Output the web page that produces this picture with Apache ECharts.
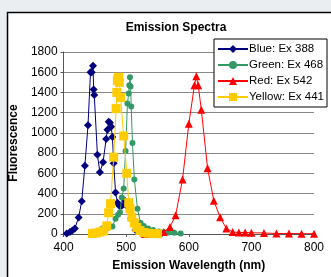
<!DOCTYPE html>
<html>
<head>
<meta charset="utf-8">
<script src="https://cdn.jsdelivr.net/npm/echarts@6/dist/echarts.min.js"></script>
<style>
  html, body { margin: 0; padding: 0; background: #eaeef1; }
  #main { width: 331px; height: 277px; }
</style>
</head>
<body>
<div id="main"></div>
<script>
// 数据
var xTicks = [400, 500, 600, 700, 800];
var yTicks = [0, 200, 400, 600, 800, 1000, 1200, 1400, 1600, 1800];

var blueX = [405, 410, 414, 418, 424, 429, 434, 439, 443, 445, 447, 448, 449, 454, 458, 463, 468, 470, 472, 474, 476, 478, 480, 483, 486, 489, 493, 498, 503, 508, 515, 525, 540, 556];
var blueY = [5, 20, 35, 55, 164, 325, 675, 1075, 1600, 1600, 1665, 1430, 1375, 785, 610, 710, 940, 1030, 1110, 1100, 1060, 960, 700, 410, 310, 280, 280, 330, 265, 150, 40, 10, 5, 3];

var greenX = [447, 455, 462, 470, 478, 483, 487, 490, 493, 496, 499, 502, 504, 505, 506, 507, 508, 510, 513, 518, 523, 528, 535, 543, 552, 560, 568, 577, 587];
var greenY = [10, 30, 55, 60, 75, 150, 190, 215, 360, 450, 820, 1290, 1390, 1470, 1550, 1460, 1260, 900, 540, 250, 110, 80, 55, 40, 25, 18, 15, 12, 5];

var redX = [530, 560, 570, 579, 590, 600, 609, 612, 615, 620, 630, 640, 650, 660, 670, 680, 690, 700, 720, 740, 760, 780, 800];
var redY = [0, 20, 70, 185, 540, 1090, 1470, 1560, 1470, 1230, 650, 330, 165, 55, 20, 15, 15, 12, 10, 5, 5, 3, 3];

var yellowX = [446, 452, 458, 464, 469, 472, 475, 480, 484, 485, 486, 487, 488, 489, 491, 496, 501, 504, 506, 509, 513, 517, 522, 528, 535, 543, 550];
var yellowY = [5, 10, 20, 30, 80, 210, 300, 760, 1240, 1400, 1520, 1540, 1550, 1500, 1350, 970, 600, 310, 250, 165, 110, 65, 35, 15, 8, 5, 3];

function pairs(xs, ys) {
  return xs.map(function (x, i) { return [x, ys[i]]; });
}

var myChart = echarts.init(document.getElementById('main'));
var font = 'Arial, "Liberation Sans", sans-serif';

var option = {
  animation: false,
  backgroundColor: 'transparent',
  textStyle: { fontFamily: font },
  graphic: [
    {
      type: 'rect',
      z: -10,
      shape: { x: 7.5, y: 12.5, width: 340, height: 280 },
      style: { fill: '#ffffff', stroke: '#000', lineWidth: 1.5 }
    }
  ],
  title: {
    text: 'Emission Spectra',
    left: 171,
    textAlign: 'center',
    top: 17,
    textStyle: { fontSize: 12, fontWeight: 'bold', color: '#000', fontFamily: font }
  },
  legend: {
    orient: 'vertical',
    right: 4,
    top: 39,
    padding: [4, 3, 4, 3],
    itemGap: 4,
    itemWidth: 30,
    itemHeight: 10,
    backgroundColor: '#fff',
    borderColor: '#000',
    borderWidth: 1,
    borderRadius: 0,
    textStyle: { fontSize: 11.5, color: '#000', fontFamily: font, padding: [0, 0, 0, -4] },
    data: ['Blue: Ex 388', 'Green: Ex 468', 'Red: Ex 542', 'Yellow: Ex 441']
  },
  grid: { left: 61, right: 17, top: 52, bottom: 42 },
  xAxis: {
    type: 'value',
    min: xTicks[0],
    max: xTicks[xTicks.length - 1],
    interval: 100,
    name: 'Emission Wavelength (nm)',
    nameLocation: 'middle',
    nameGap: 26,
    nameTextStyle: { fontSize: 12, fontWeight: 'bold', color: '#000', fontFamily: font },
    axisLine: { lineStyle: { color: '#555', width: 1 } },
    axisTick: { show: true, length: 3, lineStyle: { color: '#555' } },
    axisLabel: { fontSize: 12, color: '#000', margin: 8, fontFamily: font, formatter: function (v) { return String(v); } },
    splitLine: { show: false }
  },
  yAxis: {
    type: 'value',
    min: yTicks[0],
    max: yTicks[yTicks.length - 1],
    interval: 200,
    name: 'Fluorescence',
    nameLocation: 'middle',
    nameGap: 37,
    nameTextStyle: { fontSize: 12, fontWeight: 'bold', color: '#000', fontFamily: font },
    axisLine: { show: true, lineStyle: { color: '#555', width: 1 } },
    axisTick: { show: true, length: 3, lineStyle: { color: '#555' } },
    axisLabel: { fontSize: 12, color: '#000', margin: 6, fontFamily: font, formatter: function (v) { return String(v); } },
    splitLine: { show: true, lineStyle: { color: '#888', width: 1 } }
  },
  series: [
    {
      name: 'Blue: Ex 388', type: 'line', z: 2,
      data: pairs(blueX, blueY),
      symbol: 'diamond', symbolSize: 8,
      itemStyle: { color: '#000080' },
      lineStyle: { color: '#000080', width: 1 }
    },
    {
      name: 'Green: Ex 468', type: 'line', z: 3,
      data: pairs(greenX, greenY),
      symbol: 'circle', symbolSize: 6,
      itemStyle: { color: '#339966' },
      lineStyle: { color: '#339966', width: 1 }
    },
    {
      name: 'Red: Ex 542', type: 'line', z: 4,
      data: pairs(redX, redY),
      symbol: 'triangle', symbolSize: 8,
      itemStyle: { color: '#ff0000' },
      lineStyle: { color: '#ff0000', width: 1 }
    },
    {
      name: 'Yellow: Ex 441', type: 'line', z: 5,
      data: pairs(yellowX, yellowY),
      symbol: 'rect', symbolSize: 9,
      itemStyle: { color: '#ffcc00' },
      lineStyle: { color: '#ffcc00', width: 1 }
    }
  ]
};

myChart.setOption(option);
</script>
</body>
</html>
